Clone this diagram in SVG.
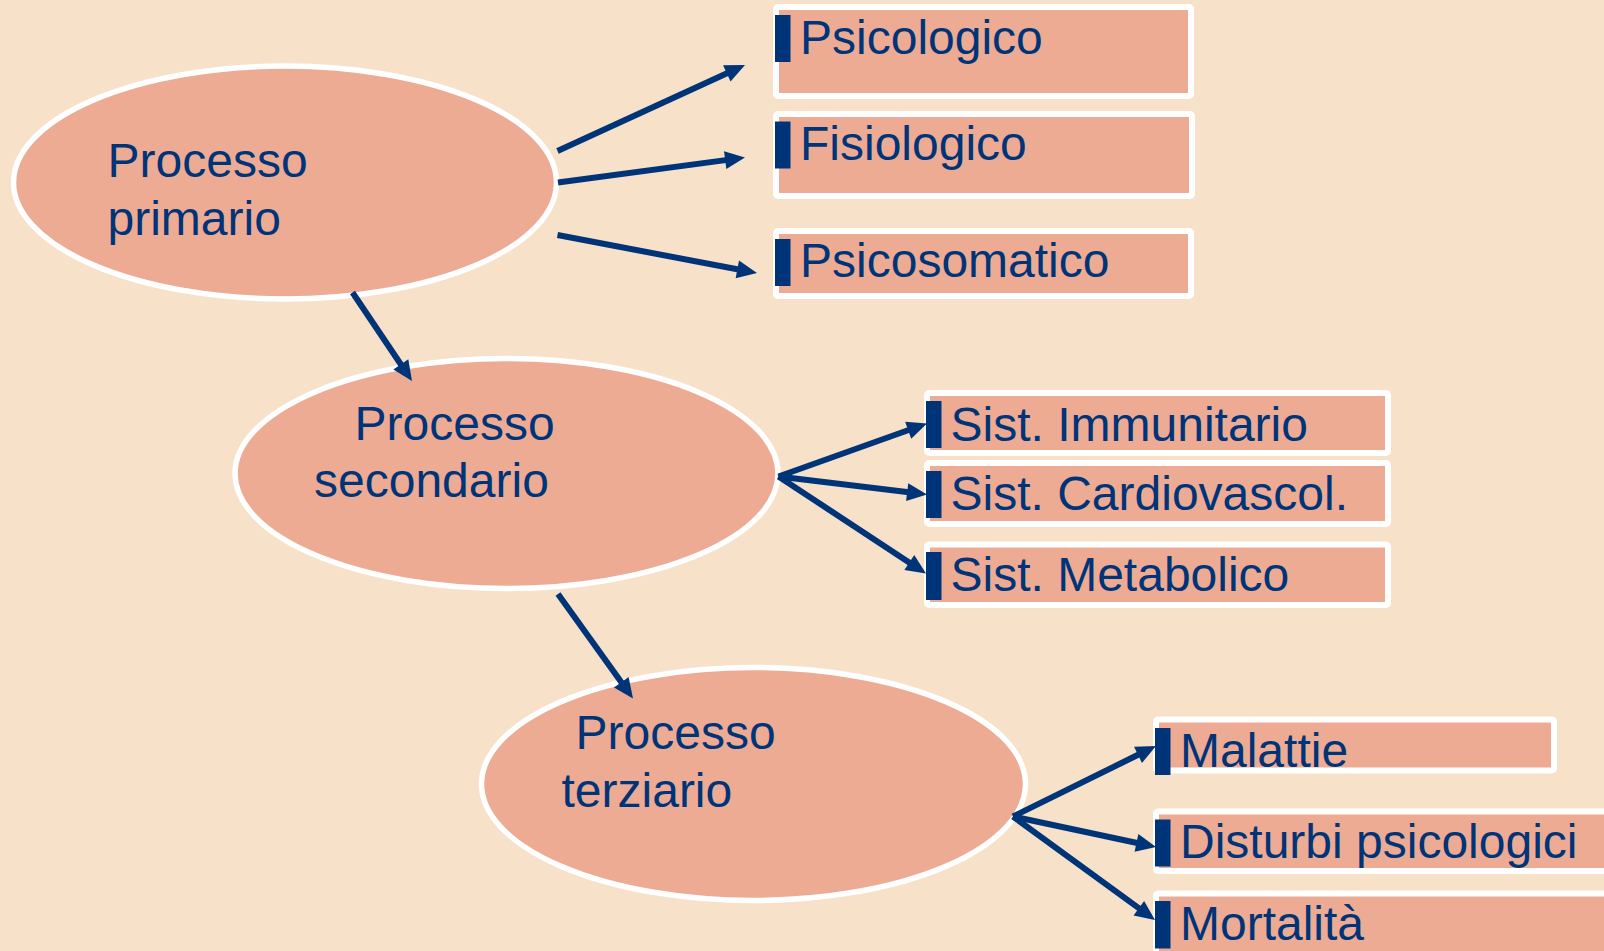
<svg xmlns="http://www.w3.org/2000/svg" width="1604" height="951" viewBox="0 0 1604 951">
  <style>
    .bg { fill: #F7E1C9; }
    .oval { fill: #EDAB94; stroke: #FFFFFF; stroke-width: 5.5; }
    .box { fill: #EDAB94; stroke: #FFFFFF; stroke-width: 6; }
    .bar { fill: #003478; }
    .lbl { font-family: "Liberation Sans", Arial, sans-serif; font-size: 48px; fill: #003478; }
    .link { stroke: #003478; stroke-width: 6; fill: none; marker-end: url(#head); }
  </style>
  <defs>
    <!-- triangular head; the line stops 12px short of the tip so the tip stays sharp -->
    <marker id="head" markerUnits="userSpaceOnUse" markerWidth="20" markerHeight="18" refX="8" refY="9" orient="auto" viewBox="0 0 20 18" overflow="visible">
      <path d="M0,0 L20,9 L0,18 Z" fill="#003478"/>
    </marker>
  </defs>

  <rect class="bg" x="0" y="0" width="1604" height="951"/>

  <!-- process ellipses -->
  <g id="primario">
    <ellipse class="oval" cx="285" cy="182.5" rx="271.5" ry="116.5"/>
    <text class="lbl" x="107.5" y="177">Processo</text>
    <text class="lbl" x="107.5" y="235">primario</text>
  </g>
  <g id="secondario">
    <ellipse class="oval" cx="506.5" cy="473.5" rx="271.5" ry="115"/>
    <text class="lbl" x="354.5" y="440">Processo</text>
    <text class="lbl" x="314" y="497">secondario</text>
  </g>
  <g id="terziario">
    <ellipse class="oval" cx="753.5" cy="784" rx="272" ry="116.5"/>
    <text class="lbl" x="575.5" y="749">Processo</text>
    <text class="lbl" x="561.5" y="807">terziario</text>
  </g>

  <!-- outcome boxes, first level -->
  <g id="psicologico">
    <rect class="box" x="776" y="7" width="415" height="89" rx="2"/>
    <rect class="bar" x="775" y="15" width="15.5" height="47"/>
    <text class="lbl" x="800" y="54">Psicologico</text>
  </g>
  <g id="fisiologico">
    <rect class="box" x="776" y="114" width="416" height="82" rx="2"/>
    <rect class="bar" x="775" y="121.5" width="15.5" height="47"/>
    <text class="lbl" x="800" y="160">Fisiologico</text>
  </g>
  <g id="psicosomatico">
    <rect class="box" x="776" y="231" width="415" height="65" rx="2"/>
    <rect class="bar" x="775" y="239" width="15.5" height="47"/>
    <text class="lbl" x="800" y="277">Psicosomatico</text>
  </g>

  <!-- outcome boxes, second level -->
  <g id="immunitario">
    <rect class="box" x="927" y="393" width="461" height="60" rx="2"/>
    <rect class="bar" x="926" y="401" width="15.5" height="47"/>
    <text class="lbl" x="950.5" y="441">Sist. Immunitario</text>
  </g>
  <g id="cardiovascolare">
    <rect class="box" x="927" y="463" width="461" height="61" rx="2"/>
    <rect class="bar" x="926" y="471" width="15.5" height="47"/>
    <text class="lbl" x="950.5" y="510">Sist. Cardiovascol.</text>
  </g>
  <g id="metabolico">
    <rect class="box" x="927" y="544.5" width="461" height="60.5" rx="2"/>
    <rect class="bar" x="926" y="552" width="15.5" height="48"/>
    <text class="lbl" x="950.5" y="591">Sist. Metabolico</text>
  </g>

  <!-- outcome boxes, third level -->
  <g id="malattie">
    <rect class="box" x="1156" y="719.5" width="398" height="51" rx="2"/>
    <rect class="bar" x="1155" y="728" width="15.5" height="47"/>
    <text class="lbl" x="1180" y="767">Malattie</text>
  </g>
  <g id="disturbi">
    <rect class="box" x="1156" y="811.5" width="460" height="59.5" rx="2"/>
    <rect class="bar" x="1155" y="819.5" width="15.5" height="47"/>
    <text class="lbl" x="1180" y="857.5">Disturbi psicologici</text>
  </g>
  <g id="mortalita">
    <rect class="box" x="1156" y="893.5" width="460" height="80" rx="2"/>
    <rect class="bar" x="1155" y="901" width="15.5" height="47.5"/>
    <text class="lbl" x="1180" y="939.5">Mortalità</text>
  </g>

  <!-- connectors -->
  <g id="connectors">
    <line class="link" x1="557.5" y1="151" x2="734.1" y2="70"/>
    <line class="link" x1="558" y1="182.5" x2="733.1" y2="159.1"/>
    <line class="link" x1="557.5" y1="235" x2="745.2" y2="270.8"/>
    <line class="link" x1="352.5" y1="292.5" x2="405.3" y2="371"/>

    <line class="link" x1="778.5" y1="476.5" x2="915.7" y2="427.5"/>
    <line class="link" x1="778.5" y1="476.5" x2="915.1" y2="493.1"/>
    <line class="link" x1="778.5" y1="476.5" x2="916" y2="566.9"/>
    <line class="link" x1="558" y1="594" x2="626" y2="688.7"/>

    <line class="link" x1="1013" y1="816.5" x2="1145.2" y2="751.3"/>
    <line class="link" x1="1013" y1="816.5" x2="1144.3" y2="844.5"/>
    <line class="link" x1="1013" y1="816.5" x2="1145.3" y2="912.9"/>
  </g>
</svg>
